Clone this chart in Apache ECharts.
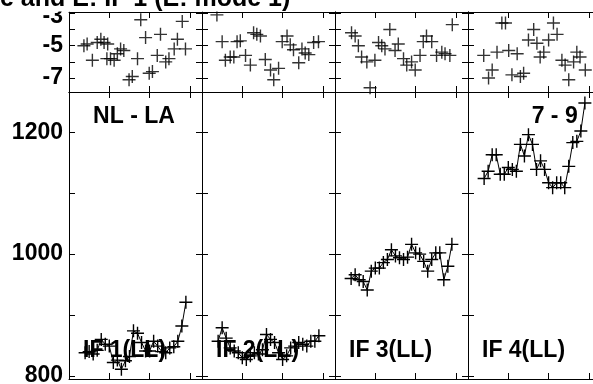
<!DOCTYPE html>
<html>
<head>
<meta charset="utf-8">
<style>
html, body { margin: 0; padding: 0; background: #fff; }
#chart-container { width: 593px; height: 384px; }
</style>
<script src="https://cdn.jsdelivr.net/npm/echarts@6/dist/echarts.min.js"></script>
</head>
<body>
<div id="chart-container"></div>
<script>
// x positions of the fitted points (bottom row, shared by the four panels)
var xs = [4, 5, 6, 7, 8, 9, 10, 11, 12, 13, 14, 15, 16, 17, 18, 19, 20, 21, 22, 23, 24, 25, 26, 27, 28, 29];

// bottom row values
var fit1 = [838, 840, 836, 842, 860, 852, 849, 822, 826, 811, 825, 832, 874, 870, 855, 841, 841, 857, 849, 840, 838, 846, 848, 857, 882, 921];
var fit2 = [857, 879, 862, 846, 841, 838, 830, 827, 833, 838, 836, 843, 868, 860, 855, 838, 827, 833, 846, 849, 855, 852, 849, 857, 857, 866];
var fit3 = [960, 966, 958, 955, 941, 972, 977, 977, 986, 991, 1007, 997, 994, 991, 995, 1016, 1002, 1000, 988, 972, 991, 1002, 1002, 958, 980, 1016];
var fit4 = [1124, 1136, 1163, 1163, 1131, 1131, 1142, 1139, 1136, 1180, 1161, 1196, 1180, 1139, 1153, 1139, 1117, 1109, 1117, 1117, 1109, 1144, 1183, 1185, 1202, 1248];

// top row residuals, [x, y]
var resid1 = [[3.7, -5.0], [4.5, -4.9], [5.8, -5.9], [7.0, -4.8], [7.9, -4.6], [8.7, -4.8], [9.6, -4.9], [9.4, -5.8], [10.3, -5.8], [11.2, -5.9], [12.0, -5.5], [12.8, -5.2], [13.6, -5.3], [14.9, -7.1], [15.7, -6.9], [17.0, -5.8], [17.8, -3.4], [19.0, -4.5], [19.9, -6.7], [20.7, -6.6], [21.9, -5.6], [22.7, -4.3], [24.0, -6.0], [24.8, -5.8], [26.1, -5.2], [26.9, -4.6], [28.1, -3.5], [28.9, -5.2]];
var resid2 = [[3.7, -3.1], [5.0, -4.75], [5.8, -5.9], [7.0, -5.7], [7.9, -5.7], [8.7, -4.75], [9.5, -4.7], [10.8, -5.6], [12.0, -6.2], [12.8, -4.2], [13.6, -4.3], [14.5, -4.4], [15.7, -5.85], [17.0, -6.5], [17.8, -7.1], [19.0, -6.4], [19.9, -4.75], [21.1, -4.4], [21.9, -4.95], [22.7, -5.25], [24.0, -6.05], [24.8, -5.2], [25.6, -5.45], [26.5, -5.55], [27.7, -4.8], [28.9, -4.75]];
var resid3 = [[4.1, -4.2], [5.0, -4.4], [5.8, -5.0], [6.6, -5.7], [7.9, -6.0], [8.7, -7.6], [9.9, -5.9], [10.8, -4.8], [11.6, -5.0], [12.4, -5.2], [13.6, -4.0], [14.9, -5.3], [15.7, -4.9], [17.0, -5.8], [17.8, -6.2], [19.0, -6.0], [19.9, -6.5], [21.1, -5.6], [21.9, -4.75], [22.7, -4.4], [24.0, -4.75], [25.2, -5.6], [26.5, -5.4], [27.3, -5.5], [28.5, -5.6], [29.1, -3.7]];
var resid4 = [[3.9, -5.6], [5.1, -7.0], [6.0, -6.5], [7.2, -5.4], [8.4, -3.6], [9.3, -3.6], [10.1, -5.3], [10.9, -6.8], [12.2, -5.5], [13.0, -6.9], [13.8, -6.7], [15.0, -4.65], [16.3, -4.0], [17.1, -4.85], [17.9, -5.7], [18.8, -5.4], [20.0, -4.65], [21.2, -3.6], [22.1, -4.3], [23.3, -5.9], [24.1, -6.2], [25.0, -7.1], [26.2, -6.0], [27.0, -5.4], [27.8, -5.7], [29.1, -6.5]];

var panelLabels = ['IF 1(LL)', 'IF 2(LL)', 'IF 3(LL)', 'IF 4(LL)'];
var titleText = 'e and E: IF 1 (E: mode 1)';

var topTicks = [-7, -6, -5, -4, -3];
var topLabels = [-7, -5, -3];
var bottomTicks = [800, 900, 1000, 1100, 1200];
var bottomLabels = [800, 1000, 1200];

var dom = document.getElementById('chart-container');
var myChart = echarts.init(dom, null, { renderer: 'canvas' });

var FONT = '"Liberation Sans", Arial, Helvetica, sans-serif';
var plus = 'path://M0,6.5L13,6.5M6.5,0L6.5,13';
var colLeft = [69, 202, 335, 468];
var colWidth = 133;
var rows = [
    { top: 12, height: 80, min: -7.86, max: -2.92, ticks: topTicks, labels: topLabels },
    { top: 92, height: 287, min: 795, max: 1266, ticks: bottomTicks, labels: bottomLabels }
];

var grid = [], xAxis = [], yAxis = [];
rows.forEach(function (r, ri) {
    colLeft.forEach(function (left, ci) {
        var gi = grid.length;
        grid.push({ left: left, top: r.top, width: colWidth, height: r.height, containLabel: false, outerBoundsMode: 'none' });
        ['bottom', 'top'].forEach(function (pos) {
            xAxis.push({
                gridIndex: gi, type: 'value', position: pos, min: 0, max: 33, interval: 10,
                axisLine: { show: true, onZero: false, lineStyle: { color: '#000', width: 1 } },
                axisTick: { show: true, inside: true, length: 6, lineStyle: { color: '#000' } },
                axisLabel: { show: false },
                splitLine: { show: false }
            });
        });
        ['left', 'right'].forEach(function (pos) {
            yAxis.push({
                gridIndex: gi, type: 'value', position: pos, min: r.min, max: r.max,
                axisLine: { show: true, onZero: false, lineStyle: { color: '#000', width: 1 } },
                axisTick: { show: true, inside: true, length: 6, customValues: r.ticks, lineStyle: { color: '#000' } },
                axisLabel: {
                    show: ci === 0 && pos === 'left', customValues: r.labels,
                    // the top label sits a little lower, under the title
                    formatter: function (v) { return v === -3 ? '{low|-3}' : String(v); },
                    rich: { low: { padding: [7, 0, 0, 0], fontSize: 23, fontWeight: 'bold', fontFamily: FONT } },
                    color: '#000', fontFamily: FONT, fontWeight: 'bold', fontSize: 23, margin: 6
                },
                splitLine: { show: false }
            });
        });
    });
});

var mark = { color: '#000', borderColor: '#000', borderWidth: 1.4 };
var series = [];
[resid1, resid2, resid3, resid4].forEach(function (d, i) {
    series.push({
        type: 'scatter', xAxisIndex: 2 * i, yAxisIndex: 2 * i,
        data: d, symbol: plus, symbolSize: 13, itemStyle: mark
    });
});
[fit1, fit2, fit3, fit4].forEach(function (vals, i) {
    var gi = i + 4;
    series.push({
        type: 'line', xAxisIndex: 2 * gi, yAxisIndex: 2 * gi,
        data: xs.map(function (x, k) { return [x, vals[k]]; }),
        symbol: plus, symbolSize: 13, itemStyle: mark,
        lineStyle: { color: '#000', width: 1 }
    });
});

var texts = [
    {
        type: 'text', x: 0, y: -0.5, z: 100,
        style: {
            text: titleText, fill: '#000', font: 'bold 25px ' + FONT, lineHeight: 24,
            align: 'left', verticalAlign: 'middle', backgroundColor: '#fff'
        }
    },
    { type: 'text', x: 134, y: 116.5, style: { text: 'NL - LA', fill: '#000', font: 'bold 23px ' + FONT, align: 'center', verticalAlign: 'middle' } },
    { type: 'text', x: 554.7, y: 116.7, style: { text: '7 - 9', fill: '#000', font: 'bold 23px ' + FONT, align: 'center', verticalAlign: 'middle' } }
];
panelLabels.forEach(function (t, i) {
    texts.push({ type: 'text', x: colLeft[i] + 14, y: 350.5, style: { text: t, fill: '#000', font: 'bold 23px ' + FONT, align: 'left', verticalAlign: 'middle' } });
});

var option = {
    animation: false,
    backgroundColor: '#fff',
    grid: grid,
    xAxis: xAxis,
    yAxis: yAxis,
    series: series,
    graphic: texts
};

if (option && typeof option === 'object') {
    myChart.setOption(option);
}

window.addEventListener('resize', myChart.resize);
</script>
</body>
</html>
